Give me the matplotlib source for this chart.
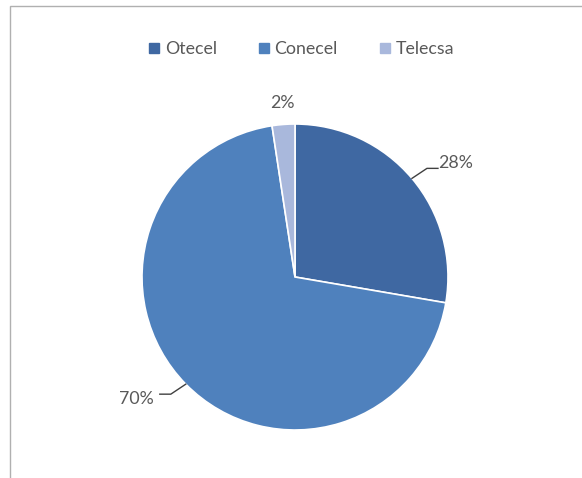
import numpy as np
import matplotlib
matplotlib.use("Agg")
import matplotlib.pyplot as plt
from matplotlib.lines import Line2D
from matplotlib.patches import Rectangle

# datos
companies = ["Otecel", "Conecel", "Telecsa"]
shares = [27.7, 69.9, 2.4]
labels = ["28%", "70%", "2%"]
colors = ["#3F68A2", "#4F81BD", "#A9B8DC"]

plt.rcParams["font.family"] = ["Lato", "DejaVu Sans"]
txt_col = "#595959"

W, H = 582, 478
fig = plt.figure(figsize=(W / 100, H / 100), dpi=100)
ax = fig.add_axes([0, 0, 1, 1])

cx, cy, R = 295, H - 277, 153
wedges, _ = ax.pie(shares, colors=colors, startangle=90, counterclock=False,
                   center=(cx, cy), radius=R,
                   wedgeprops=dict(edgecolor="white", linewidth=1.2))
ax.set_xlim(0, W)
ax.set_ylim(0, H)
ax.set_aspect("equal")
ax.axis("off")

# etiquetas con lineas guia
for w, lab in zip(wedges, labels):
    ang = np.deg2rad((w.theta1 + w.theta2) / 2)
    ex, ey = cx + R * np.cos(ang), cy + R * np.sin(ang)
    if abs(np.cos(ang)) < 0.2:
        ax.text(cx + 1.14 * R * np.cos(ang), cy + 1.14 * R * np.sin(ang), lab,
                ha="center", va="center", fontsize=12.8, color=txt_col)
        continue
    sx = np.sign(np.cos(ang))
    sy = np.sign(np.sin(ang))
    kx, ky = ex + sx * 15, ey + sy * 10
    hx = kx + sx * 11
    ax.plot([ex, kx, hx], [ey, ky, ky], color="#404040", lw=1)
    ax.text(hx + sx * (0 if sx > 0 else 6), ky + sy * 5, lab,
            ha="left" if sx > 0 else "right", va="center",
            fontsize=12.8, color=txt_col)

# leyenda
handles = [Line2D([], [], marker="s", ls="", color=c, markersize=7) for c in colors]
fig.legend(handles, companies, loc="center", bbox_to_anchor=(0.517, 1 - 49 / H),
           ncol=3, frameon=False, fontsize=12.8, labelcolor=txt_col,
           handlelength=0.7, handletextpad=0.25, columnspacing=2.3)

# marco
fig.patches.append(Rectangle((10 / W, -0.1), 1.2, 1.1 - 6 / H, transform=fig.transFigure,
                             fill=False, edgecolor="#B0B0B0", lw=1))

fig.savefig("out.png", dpi=100)
